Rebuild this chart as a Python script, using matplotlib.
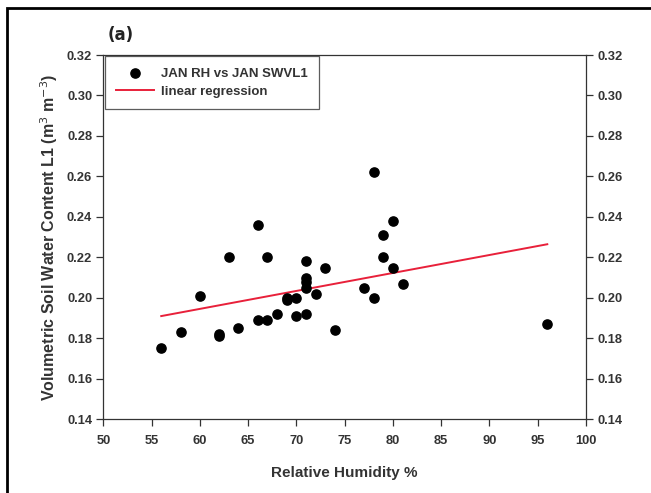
import matplotlib
matplotlib.use("Agg")
import matplotlib.pyplot as plt
from matplotlib.patches import Rectangle

# January relative humidity vs soil water content layer 1
rh = [56, 58, 60, 62, 62, 63, 64, 66, 66, 67, 67, 68, 69, 69, 70, 70,
      71, 71, 71, 71, 71, 72, 73, 74, 77, 78, 78, 79, 79, 80, 80, 81, 96]
swvl1 = [0.175, 0.183, 0.201, 0.182, 0.181, 0.220, 0.185, 0.236, 0.189,
         0.220, 0.189, 0.192, 0.200, 0.199, 0.200, 0.191, 0.218, 0.210,
         0.208, 0.205, 0.192, 0.202, 0.215, 0.184, 0.205, 0.262, 0.200,
         0.231, 0.220, 0.238, 0.215, 0.207, 0.187]

# regression line end points
reg_x = [56, 96]
reg_y = [0.191, 0.2265]

xticks = [50, 55, 60, 65, 70, 75, 80, 85, 90, 95, 100]
yticks = [0.14, 0.16, 0.18, 0.20, 0.22, 0.24, 0.26, 0.28, 0.30, 0.32]

plt.rcParams['font.family'] = ['Liberation Sans', 'DejaVu Sans']
txt_col = '#333333'

fig = plt.figure(figsize=(6.51, 4.93), dpi=100)
ax = fig.add_axes([0.1587, 0.1495, 0.7413, 0.7389])

ax.scatter(rh, swvl1, s=44, color='black', zorder=3, label='JAN RH vs JAN SWVL1')
ax.plot(reg_x, reg_y, color='#e8203a', lw=1.4, zorder=2, label='linear regression')

ax.set_xlim(50, 100)
ax.set_ylim(0.14, 0.32)
ax.set_xticks(xticks)
ax.set_yticks(yticks)
ax.set_xticklabels([str(t) for t in xticks])
ax.set_yticklabels(['%.2f' % t for t in yticks])
ax.tick_params(axis='both', direction='out', length=5, width=0.9,
               labelsize=9.3, colors=txt_col, labelcolor=txt_col, pad=3)
ax.tick_params(axis='x', pad=6)
ax.tick_params(axis='y', which='both', left=True, right=True,
               labelleft=True, labelright=True)
for lab in ax.get_xticklabels() + ax.get_yticklabels():
    lab.set_fontweight('bold')
for sp in ax.spines.values():
    sp.set_linewidth(0.9)
    sp.set_color(txt_col)

ax.set_xlabel('Relative Humidity %', fontsize=11, fontweight='bold',
              color=txt_col, labelpad=14)
ax.set_ylabel('Volumetric Soil Water Content L1 (m$^3$ m$^{-3}$)', fontsize=11.5,
              fontweight='bold', color=txt_col, labelpad=5)

leg = ax.legend(loc='upper left', bbox_to_anchor=(0.0, 1.0), fontsize=9.5,
                frameon=True, fancybox=False, edgecolor=txt_col,
                handlelength=2.9, handletextpad=0.5, borderpad=0.85,
                borderaxespad=0.1, scatterpoints=1, labelspacing=0.45)
leg.get_frame().set_linewidth(0.9)
for t in leg.get_texts():
    t.set_fontweight('bold')
    t.set_color(txt_col)

ax.text(0.008, 1.03, '(a)', transform=ax.transAxes, fontsize=12,
        fontweight='bold', family=['Liberation Sans Narrow', 'DejaVu Sans'],
        color='#222222', va='bottom')

# outer frame (cropped at right and bottom)
fig.patches.append(Rectangle((7 / 651, -0.1), 1.2, 1 - 8 / 493 + 0.1,
                             transform=fig.transFigure, fill=False,
                             lw=2, edgecolor='black'))

fig.savefig('out.png', dpi=100)
